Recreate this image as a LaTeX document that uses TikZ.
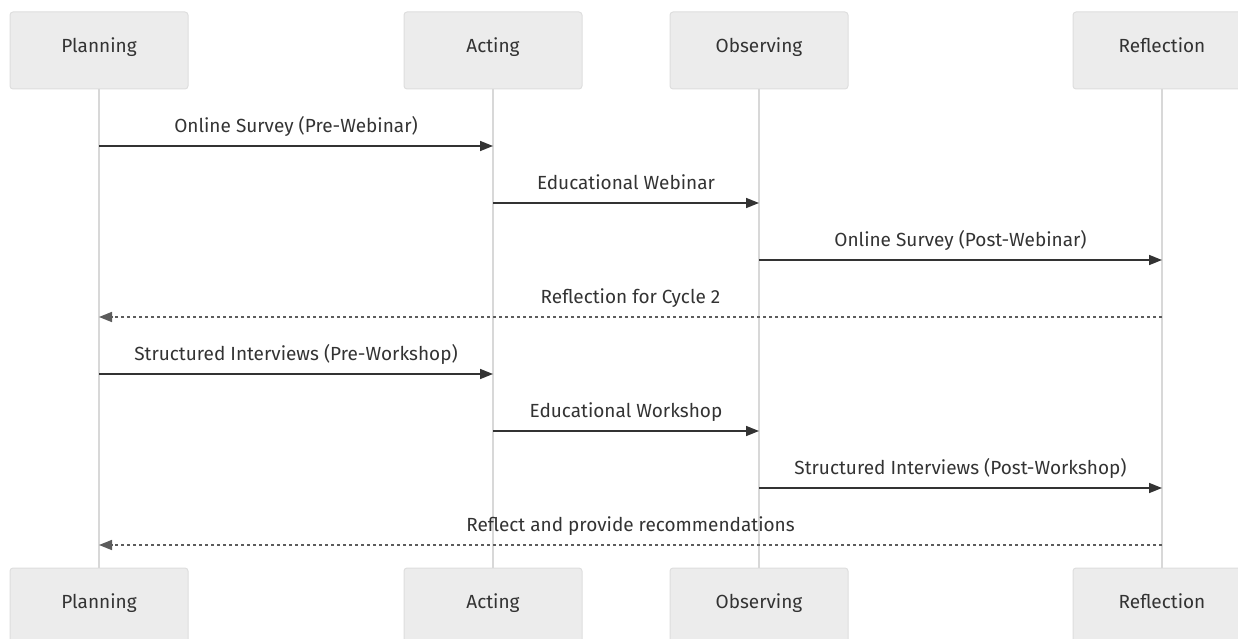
\documentclass[tikz,border=0pt]{standalone}
\usepackage{fontspec}
\setmainfont{Fira Sans}
\usetikzlibrary{arrows.meta}
\definecolor{boxfill}{HTML}{ECECEC}
\definecolor{boxline}{HTML}{DEDEDE}
\definecolor{lifegray}{HTML}{D8D8D8}
\definecolor{msgdark}{HTML}{333333}
\begin{document}
\begin{tikzpicture}
	[x=1pt, y=-1pt,
	actor/.style={
		rectangle,
		rounded corners=3pt,
		draw=boxline,
		fill=boxfill,
		line width=1pt,
		minimum width=178pt,
		minimum height=77pt,
		text height=12pt,
		text depth=8pt,
		text=msgdark,
		font=\fontsize{19}{22}\selectfont
	},
	lifeline/.style={draw=lifegray, line width=1.6pt},
	msg/.style={draw=msgdark, line width=1.6pt, -{Triangle[length=13pt,width=10pt]}},
	reply/.style={msg, draw=msgdark!80, dash pattern=on 3pt off 3pt},
	msglabel/.style={midway, above=5pt, text height=13pt, text depth=4pt, text=msgdark, font=\fontsize{19}{22}\selectfont}]
	\useasboundingbox (0,0) rectangle (1238,639);
	% actors, top and bottom
	\node[actor] (plan) at (99,50.5) {Planning};
	\node[actor] (act) at (493,50.5) {Acting};
	\node[actor] (obs) at (759,50.5) {Observing};
	\node[actor] (refl) at (1162,50.5) {Reflection};
	\node[actor] (plan2) at (99,606.5) {Planning};
	\node[actor] (act2) at (493,606.5) {Acting};
	\node[actor] (obs2) at (759,606.5) {Observing};
	\node[actor] (refl2) at (1162,606.5) {Reflection};
	% lifelines
	\draw[lifeline] (plan.south) -- (plan2.north);
	\draw[lifeline] (act.south) -- (act2.north);
	\draw[lifeline] (obs.south) -- (obs2.north);
	\draw[lifeline] (refl.south) -- (refl2.north);
	% message rows
	\foreach \i/\y in {1/146,2/203,3/260,4/317,5/374,6/431,7/488,8/545}
		\coordinate (m\i) at (0,\y);
	\draw[msg] (plan |- m1) -- (act |- m1) node[msglabel]{Online Survey (Pre-Webinar)};
	\draw[msg] (act |- m2) -- (obs |- m2) node[msglabel]{Educational Webinar};
	\draw[msg] (obs |- m3) -- (refl |- m3) node[msglabel]{Online Survey (Post-Webinar)};
	\draw[reply] (refl |- m4) -- (plan |- m4) node[msglabel]{Reflection for Cycle 2};
	\draw[msg] (plan |- m5) -- (act |- m5) node[msglabel]{Structured Interviews (Pre-Workshop)};
	\draw[msg] (act |- m6) -- (obs |- m6) node[msglabel]{Educational Workshop};
	\draw[msg] (obs |- m7) -- (refl |- m7) node[msglabel]{Structured Interviews (Post-Workshop)};
	\draw[reply] (refl |- m8) -- (plan |- m8) node[msglabel]{Reflect and provide recommendations};
\end{tikzpicture}
\end{document}
